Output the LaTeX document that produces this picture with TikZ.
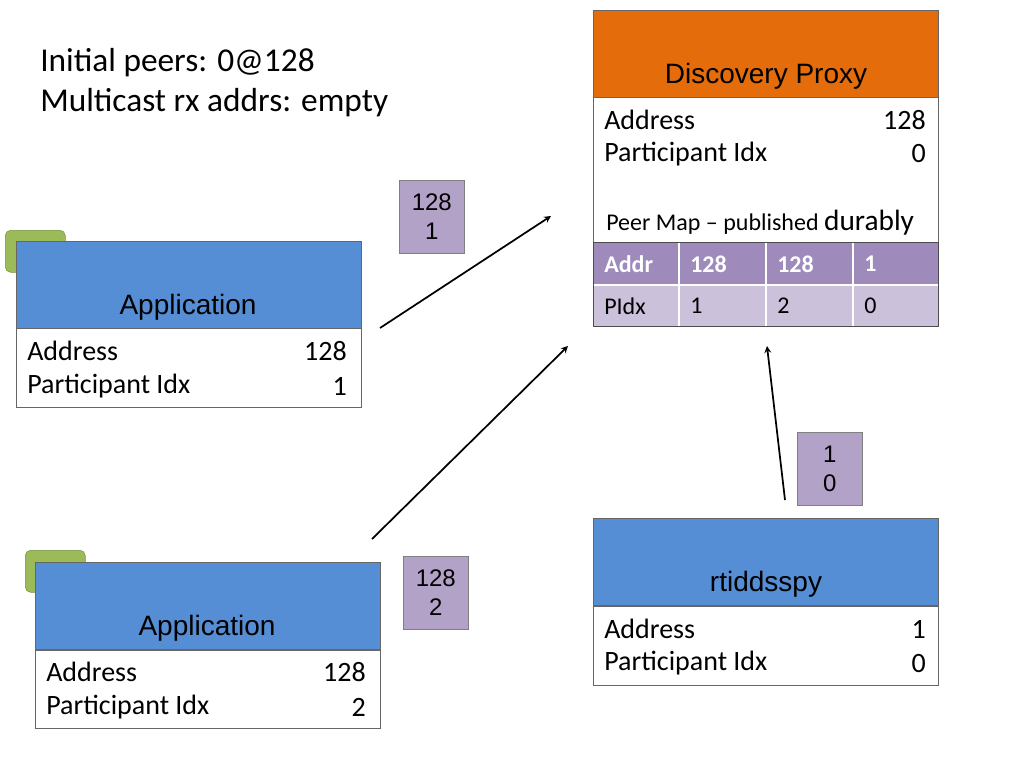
\documentclass[tikz,border=0pt]{standalone}
\usepackage{fontspec}
\setmainfont{Carlito}
\newfontfamily\arialfont{Liberation Sans}
\usetikzlibrary{positioning}
\definecolor{proxyorange}{RGB}{228,108,10}
\definecolor{appblue}{RGB}{85,142,213}
\definecolor{tabgreen}{RGB}{119,147,60}
\definecolor{tabfill}{RGB}{155,187,89}
\definecolor{msgpurple}{RGB}{179,162,199}
\definecolor{headpurple}{RGB}{159,138,188}
\definecolor{rowpurple}{RGB}{204,193,218}
\tikzset{
  head/.style={draw=black!60,fill=appblue,minimum width=345*0.75pt,minimum height=87*0.75pt,inner sep=0pt},
  body/.style={draw=black!60,fill=white,minimum width=345*0.75pt,inner sep=0pt,anchor=north west},
  tab/.style={draw=tabgreen,fill=tabfill,rounded corners=4pt,minimum width=60*0.75pt,minimum height=42*0.75pt,anchor=north west},
  msg/.style={draw=black!50,fill=msgpurple,minimum width=65*0.75pt,minimum height=73*0.75pt,align=center,font=\arialfont\fontsize{18}{22}\selectfont,inner sep=0pt},
  lbl/.style={anchor=west,font=\fontsize{21}{25}\selectfont,inner sep=0pt},
  val/.style={anchor=east,font=\fontsize{21}{25}\selectfont,inner sep=0pt},
  cell/.style={anchor=west,font=\fontsize{18}{22}\selectfont,inner sep=0pt},
  title/.style={font=\arialfont\fontsize{21}{25}\selectfont},
  flow/.style={->,>=stealth,line width=1.3pt}
}
\begin{document}
\begin{tikzpicture}[x=0.75pt,y=0.75pt,yscale=-1]
\useasboundingbox (0,0) rectangle (1024,768);

% top-left notes
\node[anchor=west,inner sep=0pt,font=\fontsize{25}{30}\selectfont] (peers) at (40,63) {Initial peers: 0@128};
\node[anchor=west,inner sep=0pt,font=\fontsize{25}{30}\selectfont] (mcast) at (40,103) {Multicast rx addrs: empty};

% discovery proxy
\node[head,fill=proxyorange,anchor=north west] (proxy) at (593,10) {};
\node[title] at (766,76) {Discovery Proxy};
\node[body,minimum height=145*0.75pt] (proxybody) at (593,97) {};
\node[lbl] at (604,120) {Address};
\node[val] at (926,120) {128};
\node[lbl] at (604,154) {Participant Idx};
\node[val] at (926,154) {0};
\node[anchor=west,inner sep=0pt,font=\fontsize{18}{22}\selectfont] (peermap) at (606,223) {Peer Map -- published {\fontsize{22}{24}\selectfont durably}};
% peer map table
\fill[headpurple] (593,242) rectangle (938,285);
\fill[rowpurple] (593,285) rectangle (938,326);
\draw[white,line width=2pt] (593,285) -- (938,285);
\foreach \x in {679,766,853} \draw[white,line width=1.5pt] (\x,242) -- (\x,326);
\draw[black!70] (593,242) rectangle (938,326);
\foreach \x/\t in {604/Addr,690/128,777/128,864/1}
  \node[cell,text=white,font=\bfseries\fontsize{18}{22}\selectfont] at (\x,264) {\t};
\foreach \x/\t in {604/PIdx,690/1,777/2,864/0}
  \node[cell] at (\x,306) {\t};

% application 1
\node[tab] (tabA) at (5,230) {};
\node[head,anchor=north west] (appA) at (16,241) {};
\node[title] at (188,307) {Application};
\node[body,minimum height=79*0.75pt] (appAbody) at (16,328) {};
\node[lbl] at (27,351) {Address};
\node[val] at (347,351) {128};
\node[lbl] at (27,386) {Participant Idx};
\node[val] at (347,386) {1};

% application 2
\node[tab] (tabB) at (25,550) {};
\node[head,anchor=north west] (appB) at (35,562) {};
\node[title] at (207,628) {Application};
\node[body,minimum height=78*0.75pt] (appBbody) at (35,650) {};
\node[lbl] at (46,672) {Address};
\node[val] at (366,672) {128};
\node[lbl] at (46,707) {Participant Idx};
\node[val] at (366,707) {2};

% rtiddsspy
\node[head,anchor=north west] (spy) at (593,518) {};
\node[title] at (766,584) {rtiddsspy};
\node[body,minimum height=79*0.75pt] (spybody) at (593,606) {};
\node[lbl] at (604,629) {Address};
\node[val] at (926,629) {1};
\node[lbl] at (604,663) {Participant Idx};
\node[val] at (926,663) {0};

% messages
\node[msg,anchor=north west] (msgA) at (399,180) {128\\1};
\node[msg,anchor=north west] (msgB) at (403,556) {128\\2};
\node[msg,anchor=north west] (msgS) at (797,432) {1\\0};

% arrows
\coordinate (fromA) at (380,328);
\coordinate (toA) at (551,216);
\coordinate (fromB) at (372,539);
\coordinate (toB) at (568,346);
\coordinate (fromS) at (785,500);
\coordinate (toS) at (767,346);
\draw[flow] (fromA) -- (toA);
\draw[flow] (fromB) -- (toB);
\draw[flow] (fromS) -- (toS);
\end{tikzpicture}
\end{document}
